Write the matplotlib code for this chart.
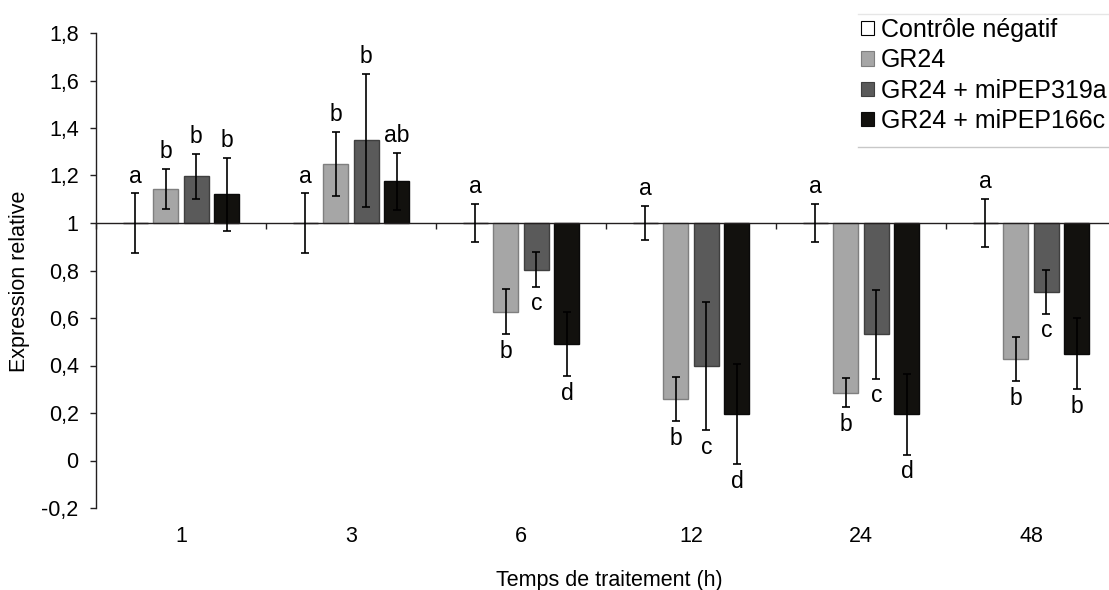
import matplotlib
matplotlib.use("Agg")
import matplotlib.pyplot as plt
from matplotlib.lines import Line2D
from matplotlib.patches import Patch
from matplotlib.ticker import FuncFormatter
import numpy as np

plt.rcParams['font.family'] = ['Liberation Sans', 'DejaVu Sans']

times = ["1", "3", "6", "12", "24", "48"]
series = ["Contrôle négatif", "GR24", "GR24 + miPEP319a", "GR24 + miPEP166c"]

# relative expression (baseline = 1) and error (half length of the bar)
ctrl = [1, 1, 1, 1, 1, 1]
ctrl_err = [0.125, 0.125, 0.08, 0.073, 0.082, 0.103]
gr24 = [1.144, 1.248, 0.626, 0.258, 0.286, 0.427]
gr24_err = [0.085, 0.135, 0.095, 0.093, 0.061, 0.093]
pep319 = [1.197, 1.349, 0.804, 0.398, 0.531, 0.71]
pep319_err = [0.095, 0.28, 0.073, 0.27, 0.187, 0.092]
pep166 = [1.12, 1.176, 0.49, 0.195, 0.195, 0.449]
pep166_err = [0.155, 0.12, 0.135, 0.21, 0.17, 0.15]

ctrl_lbl = ["a", "a", "a", "a", "a", "a"]
gr24_lbl = ["b", "b", "b", "b", "b", "b"]
pep319_lbl = ["b", "b", "c", "c", "c", "c"]
pep166_lbl = ["b", "ab", "d", "d", "d", "b"]

fills = ["white", "#a6a6a6", "#5a5a5a", "#12110e"]
edges = ["black", "#7f7f7f", "#3f3f3f", "#0a0a0a"]

fig = plt.figure(figsize=(11.09, 5.90), dpi=100)
ax = fig.add_axes([96 / 1109, 82 / 590, 1020 / 1109, 475 / 590])

x = np.arange(len(times))
offsets = [-0.27, -0.09, 0.09, 0.27]
width = 0.147
data = [(ctrl, ctrl_err, ctrl_lbl), (gr24, gr24_err, gr24_lbl),
        (pep319, pep319_err, pep319_lbl), (pep166, pep166_err, pep166_lbl)]

for k, (vals, errs, lbls) in enumerate(data):
    vals = np.array(vals)
    xs = x + offsets[k]
    ax.bar(xs, vals - 1, bottom=1, width=width, color=fills[k],
           edgecolor=edges[k], linewidth=1.0, zorder=2)
    ax.errorbar(xs, vals, yerr=errs, fmt='none', ecolor='black',
                elinewidth=1.2, capsize=3, capthick=1.2, zorder=3)
    for xi, v, e, l in zip(xs, vals, errs, lbls):
        if v >= 1:
            ax.annotate(l, (xi, v + e), xytext=(0, 4), textcoords='offset points',
                        ha='center', va='bottom', fontsize=16.5)
        else:
            ax.annotate(l, (xi, v - e), xytext=(0, -4), textcoords='offset points',
                        ha='center', va='top', fontsize=16.5)

ax.set_xlim(-0.5, 5.5)
ax.set_ylim(-0.2, 1.8)
ax.set_yticks(np.arange(-0.2, 1.81, 0.2))
ax.yaxis.set_major_formatter(FuncFormatter(lambda v, p: ('%g' % round(v, 1)).replace('.', ',')))
ax.tick_params(axis='y', length=4.5, width=1.0, pad=8, labelsize=15.5, color='#231f20')

ax.set_xticks(np.arange(-0.5, 5.6, 1.0))
ax.set_xticklabels([])
ax.tick_params(axis='x', length=4, width=1.0, color='#231f20')
ax.spines['bottom'].set_position(('data', 1))
ax.spines['top'].set_visible(False)
ax.spines['right'].set_visible(False)
for s in ['left', 'bottom']:
    ax.spines[s].set_linewidth(1.0)
    ax.spines[s].set_color('#231f20')

for xi, t in zip(x, times):
    ax.text(xi, -0.061, t, transform=ax.get_xaxis_transform(),
            ha='center', va='center', fontsize=15.5)

fig.text(609 / 1109, 4 / 590, "Temps de traitement (h)", ha='center', va='baseline', fontsize=15.5)
fig.text(20 / 1109, 1 - 281 / 590, "Expression relative", rotation=90,
         ha='center', va='center', fontsize=15.5)

handles = [Patch(facecolor=fills[k], edgecolor=edges[k] if k else 'black', linewidth=0.8)
           for k in range(4)]
fig.legend(handles, series, loc='upper left', bbox_to_anchor=(861 / 1109, 1 - 18 / 590),
           frameon=False, fontsize=18, handlelength=0.5, handleheight=0.5,
           handletextpad=0.3, labelspacing=0.25, borderpad=0, borderaxespad=0)
fig.add_artist(Line2D([858 / 1109, 1], [1 - 14 / 590, 1 - 14 / 590],
                      transform=fig.transFigure, color='#e6e6e6', linewidth=1))
fig.add_artist(Line2D([858 / 1109, 1], [1 - 147 / 590, 1 - 147 / 590],
                      transform=fig.transFigure, color='#c8c8c8', linewidth=1))

fig.savefig("out.png", dpi=100)
